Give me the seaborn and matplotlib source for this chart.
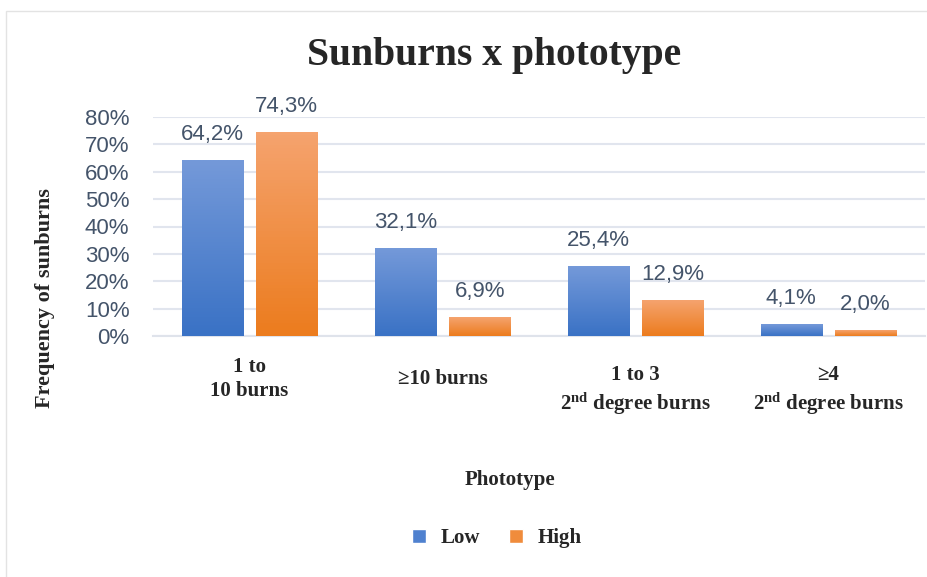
import matplotlib
matplotlib.use("Agg")
import matplotlib.pyplot as plt
import numpy as np
import pandas as pd
import seaborn as sns
from matplotlib.colors import LinearSegmentedColormap
from matplotlib.patches import Rectangle, Patch
from matplotlib.transforms import ScaledTranslation

# data
categories = ["1 to\n10 burns", "≥10 burns",
              "1 to 3\n$2^{\\mathrm{nd}}$ degree burns",
              "≥4\n$2^{\\mathrm{nd}}$ degree burns"]
low = [64.2, 32.1, 25.4, 4.1]
high = [74.3, 6.9, 12.9, 2.0]
groups = ["Low", "High"]
yticks = [0, 10, 20, 30, 40, 50, 60, 70, 80]

df = pd.DataFrame({
    "cat": categories * 2,
    "val": low + high,
    "level": ["Low"] * 4 + ["High"] * 4,
})

sns.set_style("white")
plt.rcParams["mathtext.fontset"] = "custom"
plt.rcParams["mathtext.rm"] = "Liberation Serif:bold"
plt.rcParams["mathtext.bf"] = "Liberation Serif:bold"
plt.rcParams["mathtext.it"] = "Liberation Serif:bold"

serif = "Liberation Serif"
sans = "Liberation Sans"
dark = "#262626"
slate = "#44546a"

# gradient colours, top -> bottom
grad_cols = {"Low": ("#7499d9", "#3a72c5"), "High": ("#f5a36e", "#ec7c1e")}
palette = {"Low": "#4f81cf", "High": "#f08c3c"}

fig = plt.figure(figsize=(9.28, 5.77), dpi=100)
ax = fig.add_axes([153 / 928, 1 - 336 / 577, 772 / 928, 219 / 577])

sns.barplot(data=df, x="cat", y="val", hue="level", palette=palette,
            width=0.77, gap=0.175, saturation=1, legend=False, ax=ax)

ax.set_ylim(0, 80)
xl = ax.get_xlim()

# paint a vertical gradient over each bar
for cont, name in zip(ax.containers, groups):
    top, bot = grad_cols[name]
    cmap = LinearSegmentedColormap.from_list(name, [bot, top])
    for bar, v in zip(cont.patches, cont.datavalues):
        x0 = bar.get_x()
        w = bar.get_width()
        bar.set_visible(False)
        ax.imshow(np.linspace(0, 1, 64).reshape(-1, 1), extent=[x0, x0 + w, 0, v],
                  origin="lower", aspect="auto", cmap=cmap, zorder=3)
        ax.annotate(f"{v:.1f}%".replace(".", ","), (x0 + w / 2, v),
                    xytext=(0, 11), textcoords="offset points",
                    ha="center", va="bottom", fontsize=16, family=sans,
                    color=slate, annotation_clip=False)

ax.set_xlim(xl)
ax.set_ylim(0, 80)

ax.set_yticks(yticks)
ax.set_yticklabels([f"{t}%" for t in yticks], fontsize=16, family=sans, color=slate)
ax.set_xticks(range(len(categories)))
ax.set_xticklabels(categories, fontsize=15, family=serif, fontweight="bold",
                   color=dark, va="center", linespacing=1.25)
ax.tick_params(axis="y", length=0, pad=17)
ax.tick_params(axis="x", length=0, pad=31)
ax.set_xlabel("")
ax.set_ylabel("")

# the "2nd degree" labels sit a bit lower in the original
for lab in ax.get_xticklabels()[2:]:
    lab.set_transform(lab.get_transform() +
                      ScaledTranslation(0, -12 / 100, fig.dpi_scale_trans))

ax.grid(axis="y", color="#e1e5ee", linewidth=1.5, zorder=0)
ax.set_axisbelow(True)
for s in ["top", "right", "left"]:
    ax.spines[s].set_visible(False)
ax.spines["bottom"].set_color("#dfe3eb")
ax.spines["bottom"].set_linewidth(1.5)

# outer chart border
fig.patches.append(Rectangle((6 / 928, -0.05), 1.0, 1 - 11 / 577 + 0.05,
                             transform=fig.transFigure, fill=False,
                             edgecolor="#e3e3e3", linewidth=1))

fig.text(494 / 928, 1 - 55 / 577, "Sunburns x phototype", ha="center", va="center",
         fontsize=28.5, family=serif, fontweight="bold", color=dark)
fig.text(45 / 928, 1 - 298 / 577, "Frequency of sunburns", rotation=90,
         ha="center", va="center", fontsize=16, family=serif,
         fontweight="bold", color=dark)
fig.text(510 / 928, 1 - 480 / 577, "Phototype", ha="center", va="center",
         fontsize=15, family=serif, fontweight="bold", color=dark)

handles = [Patch(facecolor=palette[g]) for g in groups]
fig.legend(handles, groups, loc="center", bbox_to_anchor=(497 / 928, 1 - 538 / 577),
           ncol=2, frameon=False, handlelength=0.65, handleheight=0.65,
           handletextpad=0.7, columnspacing=1.4,
           prop={"family": serif, "weight": "bold", "size": 15})

fig.savefig("out.png", dpi=100, facecolor="white")
